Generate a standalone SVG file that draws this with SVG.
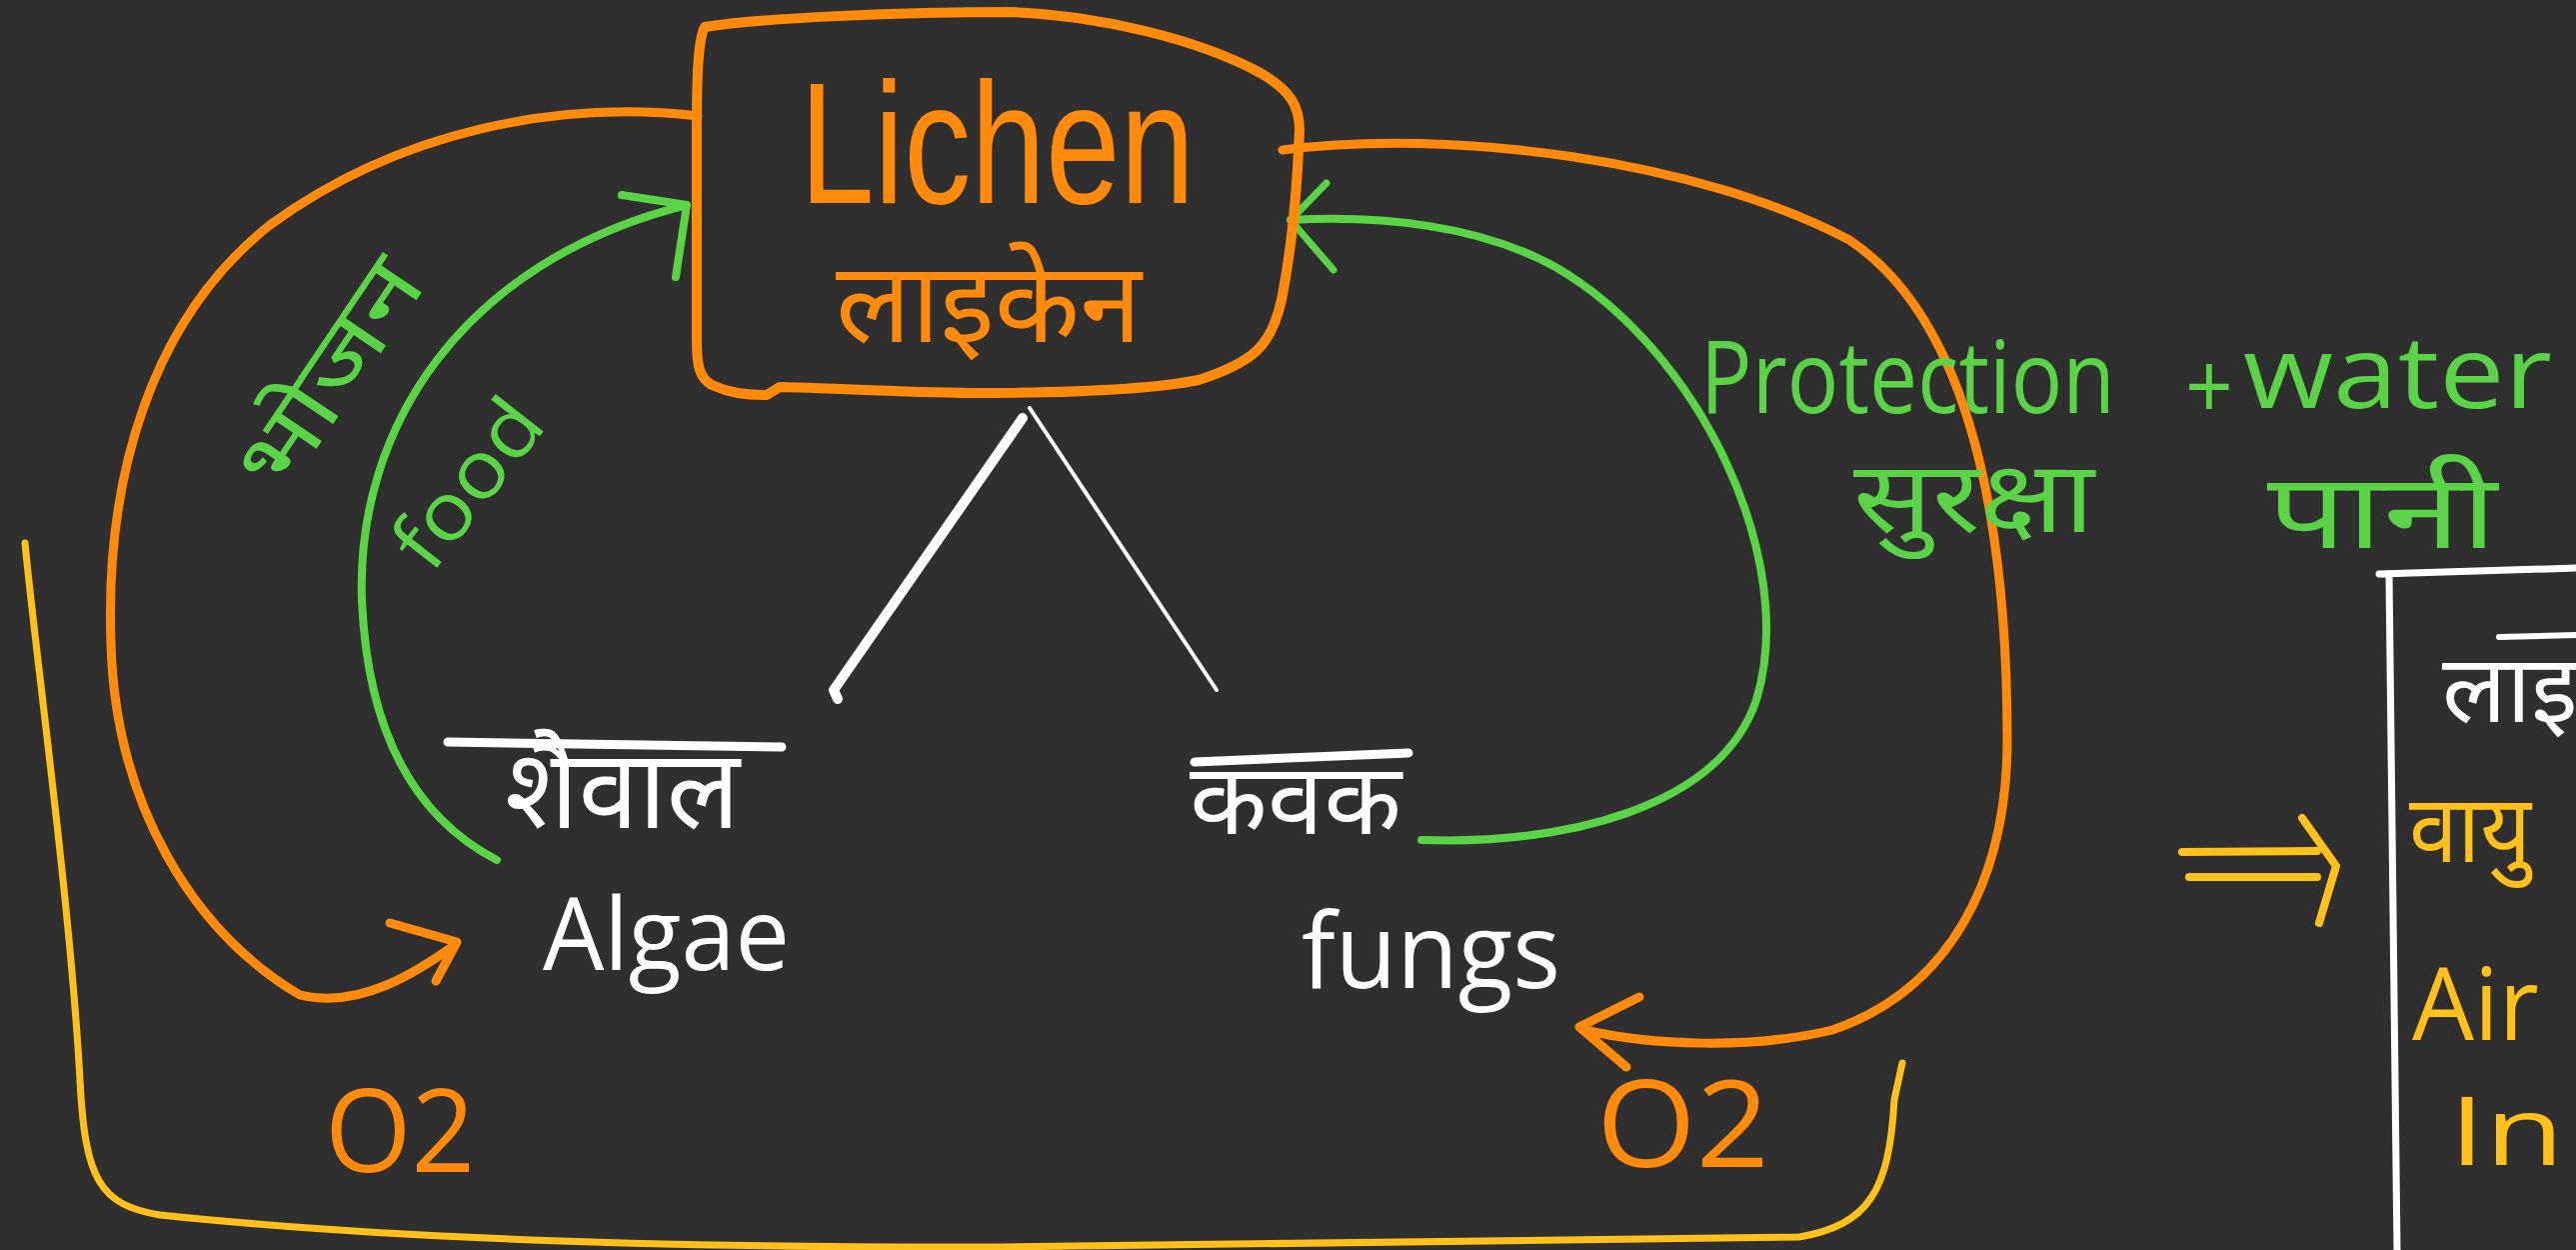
<svg xmlns="http://www.w3.org/2000/svg" width="2577" height="1250" viewBox="0 0 2577 1250">
<style>
.bg{fill:#2f2f2f}
.s{fill:none;stroke-linecap:round;stroke-linejoin:round}
.or{stroke:#ff8a0c}
.gr{stroke:#5ad446}
.ye{stroke:#ffc11a}
.wh{stroke:#ffffff}
.lat{font-family:"Open Sans","Liberation Sans",sans-serif}
.lib{font-family:"Liberation Sans","Open Sans",sans-serif}
.dev{font-family:"Noto Sans Devanagari","Lohit Devanagari","FreeSans","Noto Sans",sans-serif}
.tor{fill:#ff8a0c}
.tgr{fill:#5ad446}
.tye{fill:#ffc11a}
.twh{fill:#ffffff}
</style>
<rect class="bg" x="0" y="0" width="2577" height="1250"/>

<g id="connectors">
  <!-- left orange: Lichen -> Algae (O2) -->
  <path class="s or" stroke-width="9" d="M698,116 C560,100 400,130 270,225 C150,320 105,480 111,643 C115,800 190,930 300,995 C360,1010 420,970 455,945"/>
  <path class="s or" stroke-width="9" d="M390,923 L457,942 L436,981"/>
  <!-- left green: Algae -> Lichen (food) -->
  <path class="s gr" stroke-width="8" d="M497,860 C420,820 368,740 362,600 C356,430 460,262 687,205"/>
  <path class="s gr" stroke-width="8" d="M622,195 L687,205 L676,277"/>
  <!-- right green: Fungus -> Lichen (protection + water) -->
  <path class="s gr" stroke-width="8" d="M1422,840 C1560,845 1720,810 1757,700 C1800,560 1700,350 1556,267 C1480,225 1380,215 1291,220"/>
  <path class="s gr" stroke-width="7" d="M1327,183 L1291,220 L1334,270"/>
  <!-- right orange: Lichen -> Fungus (O2) -->
  <path class="s or" stroke-width="9" d="M1283,150 C1450,128 1700,160 1850,240 C1970,320 2008,520 2008,740 C2008,880 1950,990 1833,1030 C1750,1050 1650,1045 1585,1030"/>
  <path class="s or" stroke-width="9" d="M1640,997 L1580,1027 L1627,1067"/>
  <!-- white branches -->
  <path class="s wh" stroke-width="10" d="M1023,418 L834,690 L838,699"/>
  <path class="s wh" stroke-width="4" d="M1030,408 L1217,690"/>
  <!-- yellow bracket -->
  <path class="s ye" stroke-width="7" d="M25,543 C35,650 70,900 80,1080 C85,1180 100,1205 160,1215 C400,1240 700,1248 1000,1247 L1800,1237 C1870,1225 1890,1190 1895,1100 L1903,1063"/>
  <!-- yellow double arrow -->
  <path class="s ye" stroke-width="8" d="M2183,852 L2318,851 M2190,877 L2318,877 M2303,818 L2337,866 L2320,923"/>
</g>

<g id="node-lichen">
  <path class="s or" stroke-width="10" d="M705,27 C760,18 900,12 1012,12 C1100,15 1200,40 1261,73 C1290,90 1300,105 1300,130 C1298,180 1294,240 1282,300 C1272,345 1255,362 1199,380 C1150,390 1060,393 970,393 C900,392 830,388 780,387 L767,395 C745,395 730,393 712,385 C700,378 697,367 697,340 L697,133 C697,80 698,40 705,27 Z"/>
  <text class="lib tor" x="800" y="203" font-size="172" textLength="395" lengthAdjust="spacingAndGlyphs">Lichen</text>
  <text class="dev tor" x="836" y="342" font-size="112" textLength="306" lengthAdjust="spacingAndGlyphs">लाइकेन</text>
</g>

<g id="node-algae">
  <path class="s wh" stroke-width="9" d="M448,742 L782,747"/>
  <text class="dev twh" x="505" y="828" font-size="110" textLength="235" lengthAdjust="spacingAndGlyphs">शैवाल</text>
  <text class="lat twh" x="543" y="970" font-size="100" textLength="247" lengthAdjust="spacingAndGlyphs">Algae</text>
</g>

<g id="node-fungus">
  <path class="s wh" stroke-width="9" d="M1195,762 L1409,753"/>
  <text class="dev twh" x="1190" y="834" font-size="100" textLength="212" lengthAdjust="spacingAndGlyphs">कवक</text>
  <text class="lat twh" x="1302" y="988" font-size="105" textLength="259" lengthAdjust="spacingAndGlyphs">fungs</text>
</g>

<g id="labels">
  <text class="dev tgr" font-size="88" text-anchor="middle" transform="translate(330,375) rotate(-56)" y="30" textLength="260" lengthAdjust="spacingAndGlyphs">भोजन</text>
  <text class="lat tgr" font-size="80" text-anchor="middle" transform="translate(470,485) rotate(-52)" y="25" textLength="190" lengthAdjust="spacingAndGlyphs">food</text>
  <text class="lat tor" x="325" y="1172" font-size="115" textLength="150" lengthAdjust="spacingAndGlyphs">O2</text>
  <text class="lat tor" x="1597" y="1167" font-size="120" textLength="173" lengthAdjust="spacingAndGlyphs">O2</text>
  <text class="lat tgr" x="1701" y="413" font-size="100" textLength="415" lengthAdjust="spacingAndGlyphs">Protection</text>
  <text class="lat tgr" x="2186" y="420" font-size="94" textLength="48" lengthAdjust="spacingAndGlyphs">+</text>
  <text class="lat tgr" x="2244" y="408" font-size="100" textLength="309" lengthAdjust="spacingAndGlyphs">water</text>
  <text class="dev tgr" x="1854" y="532" font-size="100" textLength="241" lengthAdjust="spacingAndGlyphs">सुरक्षा</text>
  <text class="dev tgr" x="2268" y="548" font-size="105" textLength="230" lengthAdjust="spacingAndGlyphs">पानी</text>
</g>

<g id="node-right-box">
  <path class="s wh" stroke-width="7" d="M2380,574 L2577,568 M2390,574 L2398,1250"/>
  <path class="s wh" stroke-width="6" d="M2500,637 L2577,635"/>
  <text class="dev twh" x="2443" y="722" font-size="95">लाइ</text>
  <text class="dev tye" x="2410" y="862" font-size="95" textLength="122" lengthAdjust="spacingAndGlyphs">वायु</text>
  <text class="lat tye" x="2413" y="1040" font-size="100" textLength="127" lengthAdjust="spacingAndGlyphs">Air</text>
  <text class="lat tye" x="2450" y="1165" font-size="95" textLength="115" lengthAdjust="spacingAndGlyphs">In</text>
</g>
</svg>
